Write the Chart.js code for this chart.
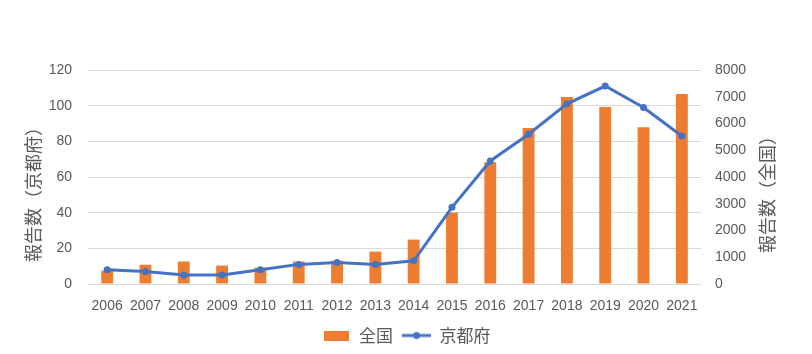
<!DOCTYPE html>
<html>
<head>
<meta charset="utf-8">
<script src="https://cdn.jsdelivr.net/npm/chart.js@4.4.1/dist/chart.umd.min.js"></script>
<style>
  html, body { margin: 0; padding: 0; background: #fff; }
</style>
</head>
<body>
<canvas id="chart" width="812" height="354"></canvas>
<script>
/* ========= DATA ========= */
const years = ["2006", "2007", "2008", "2009", "2010", "2011", "2012", "2013",
               "2014", "2015", "2016", "2017", "2018", "2019", "2020", "2021"];
// 全国 (right axis)
const nationalCounts = [500, 720, 840, 690, 610, 840, 870, 1210,
                        1660, 2670, 4550, 5830, 6990, 6620, 5860, 7100];
// 京都府 (left axis)
const kyotoCounts = [8, 7, 5, 5, 8, 11, 12, 11,
                     13, 43, 69, 84, 101, 111, 99, 83];
const leftAxis = { max: 120, step: 20 };
const rightAxis = { max: 8000, step: 1000 };
const seriesNames = ["全国", "京都府"];
const leftTitle = "報告数（京都府）";
const rightTitle = "報告数（全国）";

/* ========= STYLE ========= */
const ORANGE = "#ED7D31";
const BLUE = "#4472C4";
const TEXT = "#595959";
const GRID = "#D9D9D9";
const FONT = "'Liberation Sans', Arial, sans-serif";
const CJK = "'Noto Sans CJK JP', sans-serif";

/* ========= LEGEND SWATCHES ========= */
function swatch(w, h, draw) {
  const c = document.createElement("canvas");
  c.width = w;
  c.height = h;
  draw(c.getContext("2d"));
  return c;
}
const barSwatch = swatch(25, 10, g => {
  g.fillStyle = ORANGE;
  g.fillRect(0, 0, 25, 10);
});
const lineSwatch = swatch(29, 10, g => {
  g.strokeStyle = BLUE;
  g.lineWidth = 3;
  g.beginPath();
  g.moveTo(0, 5);
  g.lineTo(29, 5);
  g.stroke();
  g.fillStyle = BLUE;
  g.beginPath();
  g.arc(14.5, 5, 3.5, 0, Math.PI * 2);
  g.fill();
});

/* ========= AXIS TITLES (both read bottom-to-top) ========= */
const axisTitles = {
  id: "axisTitles",
  afterDraw(chart) {
    const ctx = chart.ctx;
    const midY = 190;
    ctx.save();
    ctx.font = "18px " + CJK;
    ctx.fillStyle = TEXT;
    ctx.textAlign = "center";
    ctx.textBaseline = "middle";
    [[33, leftTitle], [767, rightTitle]].forEach(([x, t]) => {
      ctx.save();
      ctx.translate(x, midY);
      ctx.rotate(-Math.PI / 2);
      ctx.fillText(t, 0, 0);
      ctx.restore();
    });
    ctx.restore();
  }
};

/* ========= CHART ========= */
new Chart(document.getElementById("chart"), {
  data: {
    labels: years,
    datasets: [
      {
        type: "bar",
        label: seriesNames[0],
        data: nationalCounts,
        backgroundColor: ORANGE,
        yAxisID: "yRight",
        barPercentage: 0.31,
        categoryPercentage: 1,
        order: 1
      },
      {
        type: "line",
        label: seriesNames[1],
        data: kyotoCounts,
        borderColor: BLUE,
        backgroundColor: BLUE,
        borderWidth: 3,
        pointRadius: 3.5,
        pointBorderWidth: 0,
        pointHoverRadius: 3.5,
        tension: 0,
        yAxisID: "yLeft",
        order: 0
      }
    ]
  },
  options: {
    responsive: false,
    animation: false,
    layout: { padding: { top: 70, left: 0, right: 0, bottom: 0 } },
    scales: {
      x: {
        grid: { display: false },
        border: { display: false },
        ticks: { color: TEXT, font: { family: FONT, size: 14 }, padding: 6, maxRotation: 0 },
        afterFit: s => { s.height = 34; }
      },
      yLeft: {
        position: "left",
        min: 0,
        max: leftAxis.max,
        ticks: { stepSize: leftAxis.step, color: TEXT, font: { family: FONT, size: 14 }, padding: 16 },
        grid: { color: GRID, lineWidth: 1, drawTicks: false },
        border: { display: false },
        afterFit: s => { s.width = 88; }
      },
      yRight: {
        position: "right",
        min: 0,
        max: rightAxis.max,
        ticks: {
          stepSize: rightAxis.step,
          color: TEXT,
          font: { family: FONT, size: 14 },
          padding: 14,
          callback: v => String(v)
        },
        grid: { drawOnChartArea: false, drawTicks: false },
        border: { display: false },
        afterFit: s => { s.width = 111; }
      }
    },
    plugins: {
      tooltip: { enabled: false },
      legend: {
        position: "bottom",
        labels: {
          usePointStyle: true,
          pointStyleWidth: 29,
          color: TEXT,
          font: { family: CJK, size: 17 },
          padding: 9,
          sort: (a, b) => a.datasetIndex - b.datasetIndex,
          generateLabels(chart) {
            const items = Chart.defaults.plugins.legend.labels.generateLabels(chart);
            items.forEach(it => {
              it.pointStyle = it.datasetIndex === 0 ? barSwatch : lineSwatch;
            });
            return items;
          }
        }
      }
    }
  },
  plugins: [axisTitles]
});
</script>
</body>
</html>
